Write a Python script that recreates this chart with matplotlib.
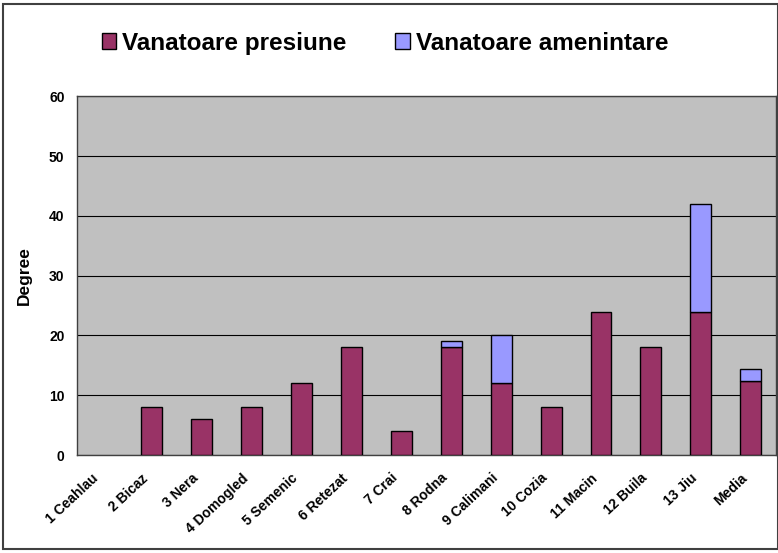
import matplotlib.pyplot as plt
import numpy as np
from matplotlib.patches import Rectangle

plt.rcParams['font.family'] = ['Liberation Sans', 'DejaVu Sans']

categories = ["1 Ceahlau", "2 Bicaz", "3 Nera", "4 Domogled", "5 Semenic",
              "6 Retezat", "7 Crai", "8 Rodna", "9 Calimani", "10 Cozia",
              "11 Macin", "12 Buila", "13 Jiu", "Media"]
presiune = [0, 8, 6, 8, 12, 18, 4, 18, 12, 8, 24, 18, 24, 12.31]
amenintare = [0, 0, 0, 0, 0, 0, 0, 1, 8, 0, 0, 0, 18, 2.08]

fig = plt.figure(figsize=(7.78, 5.53), dpi=100)
ax = fig.add_axes([0.099, 0.177, 0.898, 0.649])
ax.set_facecolor('#C0C0C0')

x = np.arange(len(categories))
p = np.array(presiune)
a = np.array(amenintare)
# zero-height segments are not drawn in the original
ax.bar(x[p > 0], p[p > 0], width=0.42, color='#993366', edgecolor='black', linewidth=1,
       label='Vanatoare presiune', zorder=3)
ax.bar(x[a > 0], a[a > 0], width=0.42, bottom=p[a > 0], color='#9999FF', edgecolor='black',
       linewidth=1, label='Vanatoare amenintare', zorder=3)

ax.set_xlim(-0.5, len(categories) - 0.5)
ax.set_ylim(0, 60)
ax.set_yticks(np.arange(0, 61, 10))
ax.yaxis.grid(True, color='black', linewidth=0.8, zorder=0)
ax.set_xticks(x)
ax.set_xticklabels([])
# category labels, rotated and tucked a little left of each bar
for i, cat in enumerate(categories):
    ax.annotate(cat, xy=(i, 0), xycoords=('data', 'axes fraction'),
                xytext=(-7.5, -11.5), textcoords='offset points',
                rotation=43, ha='right', va='top', rotation_mode='anchor',
                fontsize=10, fontweight='bold')
ax.tick_params(axis='y', labelsize=10, length=0, pad=9)
for lab in ax.get_yticklabels():
    lab.set_fontweight('bold')
ax.tick_params(axis='x', length=0)
for s in ax.spines.values():
    s.set_color('#404040')
    s.set_linewidth(1)

ax.set_ylabel('Degree', fontsize=12.5, fontweight='bold', labelpad=12)

ax.legend(loc='center', bbox_to_anchor=(0.495, 0.922), bbox_transform=fig.transFigure,
          ncol=2, frameon=False, prop={'weight': 'bold', 'size': 17.5},
          handlelength=0.6, handleheight=0.6, columnspacing=2.0, handletextpad=0.25)

fig.patches.append(Rectangle((0.004, 0.007), 0.996, 0.986, transform=fig.transFigure,
                             fill=False, edgecolor='#404040', linewidth=1.5))

fig.savefig('out.png', dpi=100)
